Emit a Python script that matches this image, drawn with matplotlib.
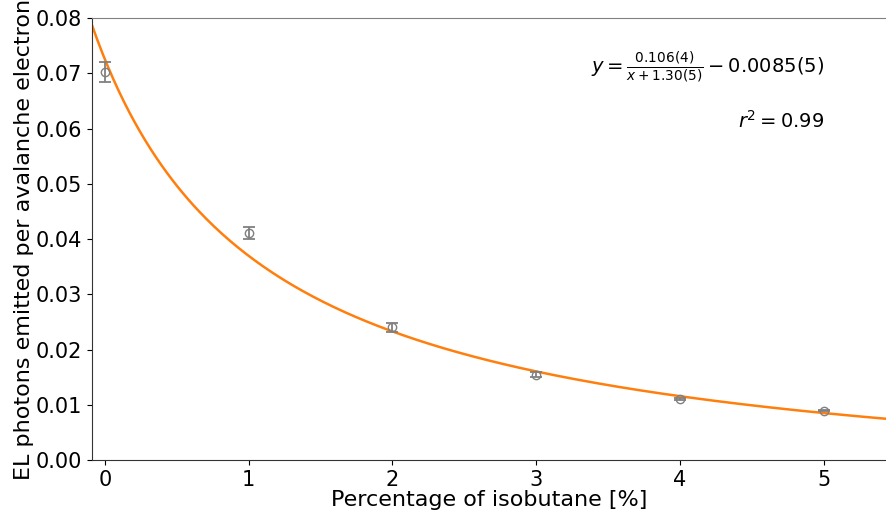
import numpy as np
import matplotlib
matplotlib.use("Agg")
import matplotlib.pyplot as plt

# Messpunkte
isobutane = [0, 1, 2, 3, 4, 5]
photons = [0.0703, 0.0411, 0.0240, 0.01545, 0.01105, 0.0089]
photons_err = [0.0018, 0.0011, 0.0008, 0.0004, 0.0001, 0.0001]

fit_a = 0.100
fit_b = 1.25
fit_c = 0.0075

fig = plt.figure(figsize=(8.87, 5.11), dpi=100)
ax = fig.add_axes([92 / 887, 51 / 511, 795 / 887, 442 / 511])

x_fit = np.linspace(-0.09, 5.44, 300)
ax.plot(x_fit, fit_a / (x_fit + fit_b) - fit_c, color='#ff7f0e', lw=1.8, zorder=2)

ax.errorbar(isobutane, photons, yerr=photons_err, fmt='o', color='gray',
            mfc='none', ms=6, capsize=4.5, elinewidth=1.3, capthick=1.3, zorder=3)

ax.set_xlim(-0.09, 5.44)
ax.set_ylim(0, 0.08)
ax.set_yticks(np.arange(0, 0.0801, 0.01))
ax.set_yticklabels([f"{v:.2f}" for v in np.arange(0, 0.0801, 0.01)])
ax.tick_params(labelsize=15)

ax.spines['right'].set_visible(False)
ax.spines['top'].set_color('gray')
ax.spines['left'].set_color('#333333')
ax.spines['bottom'].set_color('#333333')

ax.set_xlabel("Percentage of isobutane [%]", fontsize=16, labelpad=0)
ax.set_ylabel("EL photons emitted per avalanche electron", fontsize=16, labelpad=1)

ax.text(0.921, 0.887, r'$y=\frac{0.106(4)}{x+1.30(5)}-0.0085(5)$', transform=ax.transAxes,
        ha='right', va='center', fontsize=14)
ax.text(0.921, 0.767, r'$r^2=0.99$', transform=ax.transAxes,
        ha='right', va='center', fontsize=14)

fig.savefig("out.png", dpi=100)
